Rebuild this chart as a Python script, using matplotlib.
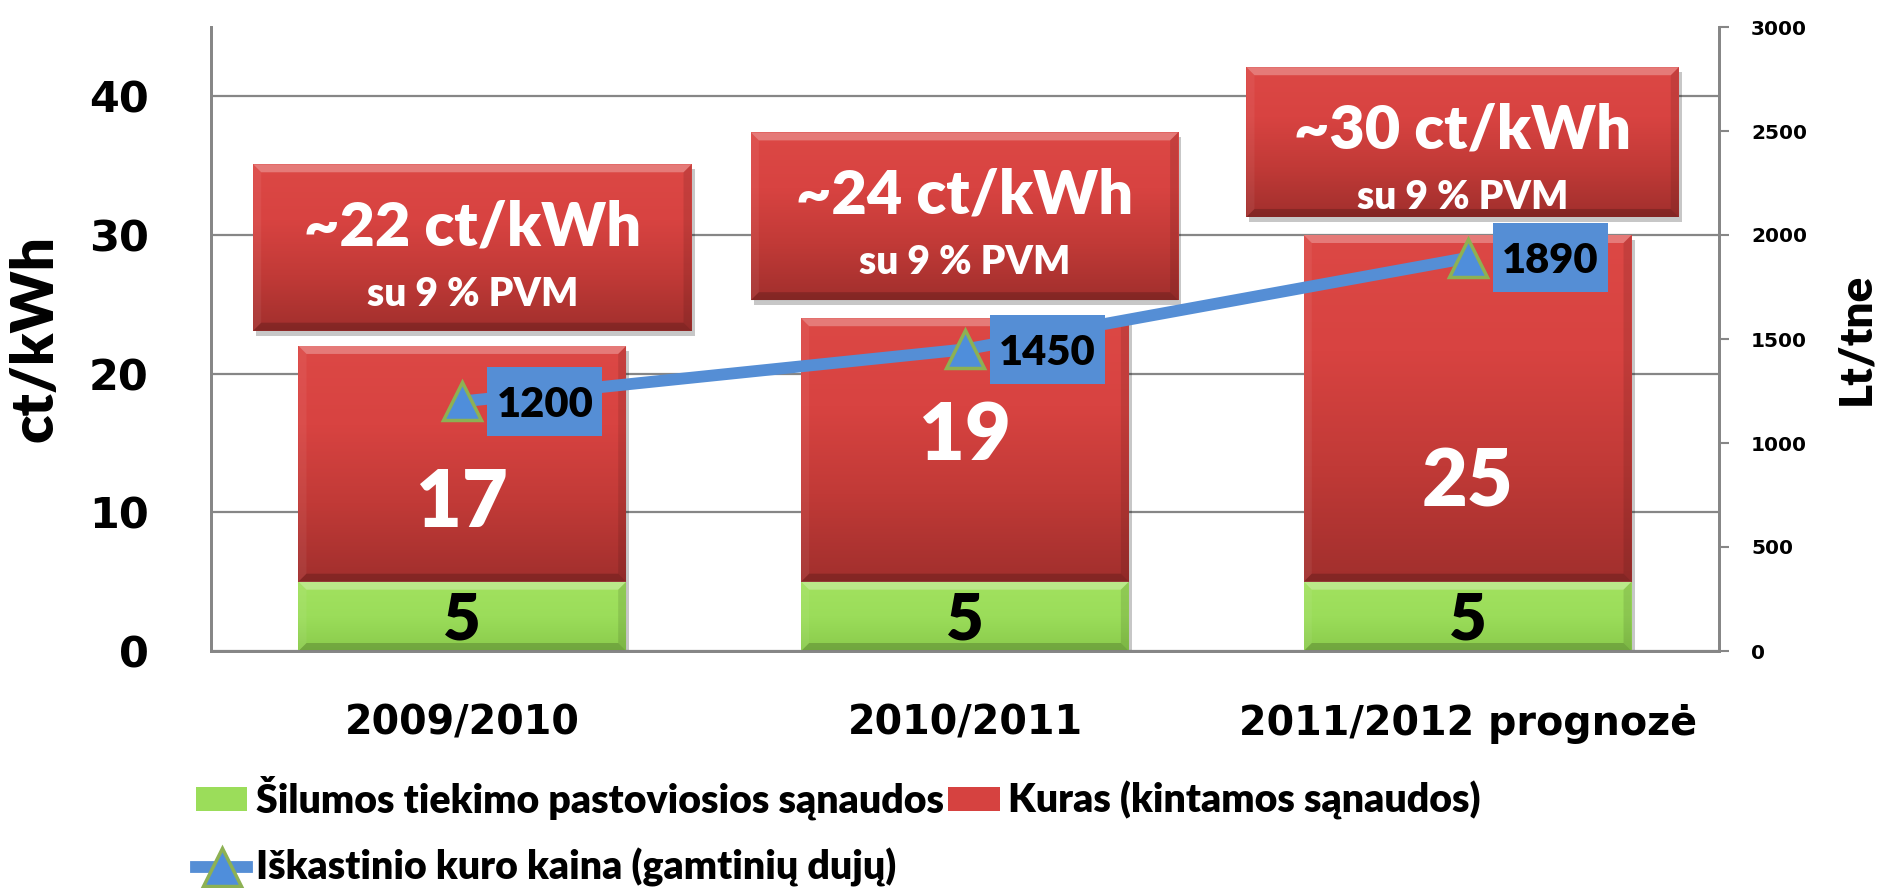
import matplotlib.pyplot as plt
import numpy as np
from matplotlib.colors import LinearSegmentedColormap
from matplotlib.patches import Rectangle, Polygon
from matplotlib.transforms import ScaledTranslation

# ---------------- data ----------------
seasons = ['2009/2010', '2010/2011', '2011/2012 prognozė']
fixed_cost = [5, 5, 5]          # ct/kWh, green part
fuel_cost = [17, 19, 25]        # ct/kWh, red part
gas_price = [1200, 1450, 1890]  # Lt/tne, line on right axis
total_notes = ['~22 ct/kWh', '~24 ct/kWh', '~30 ct/kWh']
vat_note = 'su 9 % PVM'
fuel_label_y = [11, 15.8, 12.5]  # where the white numbers sit (ct/kWh)

series_names = ['Šilumos tiekimo pastoviosios sąnaudos',
                'Kuras (kintamos sąnaudos)',
                'Iškastinio kuro kaina (gamtinių dujų)']

# note boxes above bars: x from / to (relative to category), y bottom / top
note_boxes = [(-0.416, 0.456, 23.1, 35.1),
              (-0.426, 0.424, 25.3, 37.4),
              (-0.440, 0.420, 31.3, 42.1)]

CAL = 'Lato'
HW = 'heavy'
plt.rcParams['font.family'] = ['DejaVu Sans']
plt.rcParams['font.weight'] = 'bold'

fig = plt.figure(figsize=(18.83, 8.88), dpi=100)
ax = fig.add_axes([211/1883, 1-651/888, 1508/1883, 624/888])
ax2 = ax.twinx()

ax.set_xlim(-0.5, 2.5)
ax.set_ylim(0, 45)
ax2.set_ylim(0, 3000)

# pixel -> data helpers (axes geometry is fixed)
px_x = 1508 / 3.0
px_y = 624 / 45.0

red_cmap = LinearSegmentedColormap.from_list('r', ['#A12F2D', '#C13A37', '#D84341', '#DC4845'])
green_cmap = LinearSegmentedColormap.from_list('g', ['#8ACB4C', '#9BDD5A', '#A2E25F'])
grad = np.linspace(0, 1, 256).reshape(-1, 1)


def shade(patch, cmap):
    x0, y0 = patch.get_x(), patch.get_y()
    w, h = patch.get_width(), patch.get_height()
    im = ax.imshow(grad, extent=[x0, x0 + w, y0, y0 + h], origin='lower',
                   aspect='auto', cmap=cmap, zorder=patch.get_zorder(),
                   interpolation='bilinear')
    im.set_clip_path(patch)


def bevel(x0, y0, x1, y1, b=8):
    bx, by = b / px_x, b / px_y
    top = [(x0, y1), (x1, y1), (x1 - bx, y1 - by), (x0 + bx, y1 - by)]
    bot = [(x0, y0), (x1, y0), (x1 - bx, y0 + by), (x0 + bx, y0 + by)]
    lft = [(x0, y0), (x0, y1), (x0 + bx, y1 - by), (x0 + bx, y0 + by)]
    rgt = [(x1, y0), (x1, y1), (x1 - bx, y1 - by), (x1 - bx, y0 + by)]
    ax.add_patch(Polygon(top, closed=True, fc='white', alpha=0.28, lw=0, zorder=3))
    ax.add_patch(Polygon(bot, closed=True, fc='black', alpha=0.18, lw=0, zorder=3))
    ax.add_patch(Polygon(lft, closed=True, fc='white', alpha=0.06, lw=0, zorder=3))
    ax.add_patch(Polygon(rgt, closed=True, fc='black', alpha=0.10, lw=0, zorder=3))


def shadow(x0, y0, w, h):
    ax.add_patch(Rectangle((x0 + 3 / px_x, y0 - 5 / px_y), w, h, fc='black',
                           alpha=0.22, lw=0, zorder=1.5))


x = np.arange(len(seasons))
width = 0.652

# shadows under bar stacks
for i in x:
    shadow(i - width / 2, 0, width, fixed_cost[i] + fuel_cost[i])

green = ax.bar(x, fixed_cost, width, color='#9BDD5A', zorder=2, label=series_names[0])
red = ax.bar(x, fuel_cost, width, bottom=fixed_cost, color='#D64240', zorder=2,
             label=series_names[1])

for p in green:
    shade(p, green_cmap)
    bevel(p.get_x(), p.get_y(), p.get_x() + p.get_width(), p.get_y() + p.get_height())
for p in red:
    shade(p, red_cmap)
    bevel(p.get_x(), p.get_y(), p.get_x() + p.get_width(), p.get_y() + p.get_height())

# bar value labels
for i in x:
    ax.annotate(str(fixed_cost[i]), xy=(i, fixed_cost[i] / 2), xytext=(0, -17),
                textcoords='offset points', ha='center', va='baseline',
                family=CAL, weight=HW, fontsize=47, color='black', zorder=4)
    ax.annotate(str(fuel_cost[i]), xy=(i, fuel_label_y[i]), xytext=(0, -20.5),
                textcoords='offset points', ha='center', va='baseline',
                family=CAL, weight=HW, fontsize=57, color='white', zorder=4)

# note boxes above bars
for i, (a, b, y0, y1) in enumerate(note_boxes):
    shadow(i + a, y0, b - a, y1 - y0)
    box = Rectangle((i + a, y0), b - a, y1 - y0, fc='#D64240', lw=0, zorder=2)
    ax.add_patch(box)
    shade(box, red_cmap)
    bevel(i + a, y0, i + b, y1)
    cx = i + (a + b) / 2
    ax.annotate(total_notes[i], xy=(cx, y1), xytext=(0, -58.5),
                textcoords='offset points', ha='center', va='baseline',
                family=CAL, weight=HW, fontsize=44, color='white', zorder=4)
    ax.annotate(vat_note, xy=(cx, y1), xytext=(0, -102),
                textcoords='offset points', ha='center', va='baseline',
                family=CAL, weight=HW, fontsize=28, color='white', zorder=4)

# gas price line
line, = ax2.plot(x, gas_price, color='#558ED5', lw=8.5, marker='^', ms=28,
                 mfc='#4F8EDB', mec='#8DB153', mew=2.5, zorder=5,
                 label=series_names[2])
for i in x:
    # blue label box, sized in inches, anchored at the data point
    tr = fig.dpi_scale_trans + ScaledTranslation(i, gas_price[i], ax2.transData)
    ax2.add_patch(Rectangle((0.25, -0.345), 1.15, 0.69, transform=tr,
                            fc='#558ED5', lw=0, zorder=6))
    ax2.annotate(str(gas_price[i]), xy=(i, gas_price[i]), xytext=(59.4, -11),
                 textcoords='offset points', ha='center', va='baseline',
                 family=CAL, weight=HW, fontsize=30, color='black', zorder=7)

# axes styling
grey = '#868686'
ax.set_axisbelow(True)
ax.yaxis.grid(True, color=grey, lw=1.6)
ax.set_yticks([0, 10, 20, 30, 40])
ax.tick_params(axis='y', length=0, pad=45, labelsize=31)
ax.set_xticks(x, seasons)
ax.tick_params(axis='x', length=0, pad=38, labelsize=28.5)
ax2.set_yticks(np.arange(0, 3001, 500))
ax2.tick_params(axis='y', length=7, width=1.5, color=grey, pad=16, labelsize=14.5)

for a_ in (ax, ax2):
    a_.spines['top'].set_visible(False)
    for s in ('left', 'right', 'bottom'):
        a_.spines[s].set_color(grey)
        a_.spines[s].set_linewidth(2)

ax.set_ylabel('ct/kWh', family=CAL, weight=HW, fontsize=42)
ax.yaxis.set_label_coords(-0.099, 0.5)
ax2.set_ylabel('Lt/tne', family=CAL, weight=HW, fontsize=33)
ax2.yaxis.set_label_coords(1.077, 0.5)

# legend: order so that row 1 = green, red and row 2 = line
fig.legend(handles=[green, line, red],
           labels=[series_names[0], series_names[2], series_names[1]],
           loc='upper left', bbox_to_anchor=(196/1883, 1 - 776/888), ncol=2,
           frameon=False, prop={'family': CAL, 'weight': HW, 'size': 28.3},
           handlelength=1.3, handleheight=0.55, handletextpad=0.22,
           columnspacing=0.12, labelspacing=0.7, borderpad=0, borderaxespad=0)

fig.savefig('out.png', dpi=100)
